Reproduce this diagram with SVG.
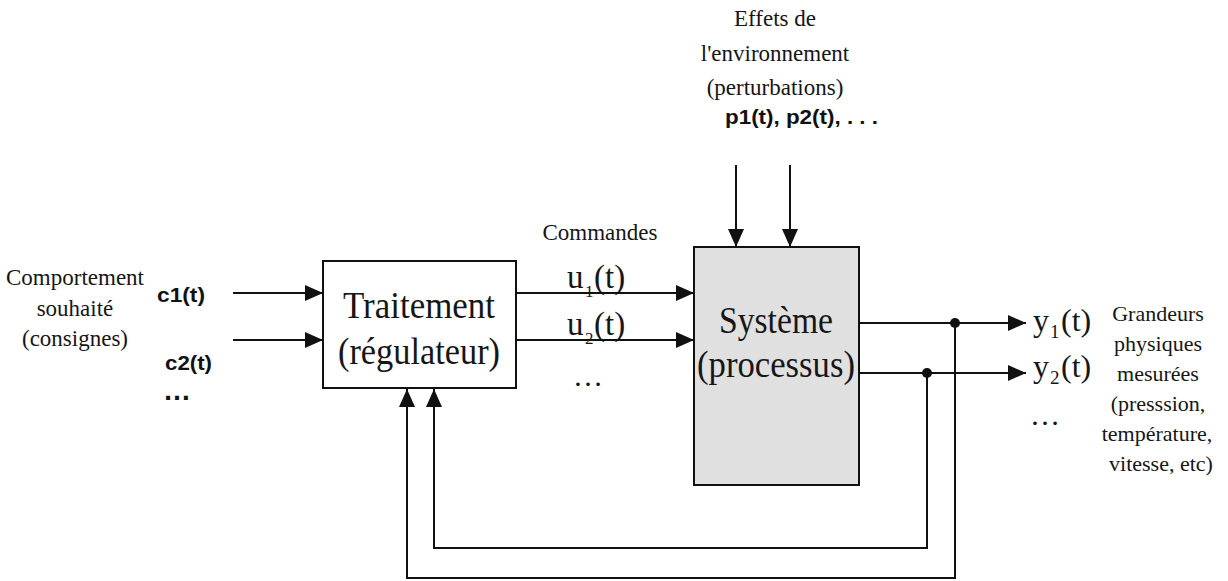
<svg xmlns="http://www.w3.org/2000/svg" width="1228" height="581" viewBox="0 0 1228 581">
  <style>
    .serif { font-family: "Liberation Serif", "Times New Roman", serif; fill: #161616; }
    .sans { font-family: "Liberation Sans", Arial, sans-serif; font-weight: bold; fill: #111; }
    .box { stroke: #111; stroke-width: 2; }
    .wire { fill: none; stroke: #111; stroke-width: 2; }
    .arrow { marker-end: url(#head); }
    .mid { text-anchor: middle; }
  </style>
  <defs>
    <marker id="head" markerUnits="userSpaceOnUse" markerWidth="18" markerHeight="16" refX="18" refY="8" orient="auto">
      <path d="M0,0 L18,8 L0,16 Z" fill="#111"/>
    </marker>
  </defs>
  <rect width="1228" height="581" fill="#fff"/>

  <!-- input side labels -->
  <g id="consignes">
    <text class="serif mid" x="75" y="285" font-size="23">Comportement</text>
    <text class="serif mid" x="75" y="316" font-size="23">souhaité</text>
    <text class="serif mid" x="75" y="346" font-size="23">(consignes)</text>
    <text class="sans" x="157" y="302" font-size="20" textLength="48" lengthAdjust="spacingAndGlyphs">c1(t)</text>
    <text class="sans" x="165" y="370" font-size="20" textLength="47" lengthAdjust="spacingAndGlyphs">c2(t)</text>
    <text class="sans" x="163" y="400" font-size="28">…</text>
  </g>

  <!-- controller -->
  <g id="traitement">
    <rect class="box" x="323" y="261" width="193" height="127" fill="#fff"/>
    <text class="serif mid" x="419" y="318" font-size="38" textLength="152" lengthAdjust="spacingAndGlyphs">Traitement</text>
    <text class="serif mid" x="419" y="364" font-size="38" textLength="162" lengthAdjust="spacingAndGlyphs">(régulateur)</text>
  </g>

  <!-- command labels -->
  <g id="commandes">
    <text class="serif mid" x="600" y="240" font-size="23" textLength="115" lengthAdjust="spacingAndGlyphs">Commandes</text>
    <text class="serif" x="567" y="288" font-size="33">u</text>
    <text class="serif" x="585" y="297" font-size="17">1</text>
    <text class="serif" x="594" y="288" font-size="33">(t)</text>
    <text class="serif" x="567" y="335" font-size="33">u</text>
    <text class="serif" x="585" y="344" font-size="17">2</text>
    <text class="serif" x="594" y="335" font-size="33">(t)</text>
    <text class="serif" x="573" y="386" font-size="30">…</text>
  </g>

  <!-- process -->
  <g id="systeme">
    <rect class="box" x="694" y="247" width="165" height="238" fill="#e0e0e0"/>
    <text class="serif mid" x="776" y="333" font-size="38" textLength="114" lengthAdjust="spacingAndGlyphs">Système</text>
    <text class="serif mid" x="776" y="377" font-size="38" textLength="158" lengthAdjust="spacingAndGlyphs">(processus)</text>
  </g>

  <!-- disturbances -->
  <g id="perturbations">
    <text class="serif mid" x="775" y="26" font-size="23">Effets de</text>
    <text class="serif mid" x="775" y="61" font-size="23">l'environnement</text>
    <text class="serif mid" x="775" y="95" font-size="23">(perturbations)</text>
    <text class="sans" x="725" y="124" font-size="21" textLength="153" lengthAdjust="spacingAndGlyphs">p1(t), p2(t), . . .</text>
  </g>

  <!-- measured outputs -->
  <g id="mesures">
    <text class="serif" x="1033" y="331" font-size="32">y</text>
    <text class="serif" x="1050" y="338" font-size="19">1</text>
    <text class="serif" x="1061" y="331" font-size="32">(t)</text>
    <text class="serif" x="1033" y="377" font-size="32">y</text>
    <text class="serif" x="1050" y="384" font-size="19">2</text>
    <text class="serif" x="1061" y="377" font-size="32">(t)</text>
    <text class="serif" x="1030" y="425" font-size="30">…</text>
    <text class="serif mid" x="1158" y="321" font-size="22">Grandeurs</text>
    <text class="serif mid" x="1158" y="351" font-size="22">physiques</text>
    <text class="serif mid" x="1158" y="381" font-size="22">mesurées</text>
    <text class="serif mid" x="1158" y="411" font-size="22">(presssion,</text>
    <text class="serif mid" x="1157" y="441" font-size="22">température,</text>
    <text class="serif mid" x="1161" y="471" font-size="22">vitesse, etc)</text>
  </g>

  <!-- signal lines -->
  <g id="connecteurs">
    <path class="wire arrow" d="M233,293 H323"/>
    <path class="wire arrow" d="M233,340 H323"/>
    <path class="wire arrow" d="M517,293 H694"/>
    <path class="wire arrow" d="M517,340 H694"/>
    <path class="wire arrow" d="M736,165 V247"/>
    <path class="wire arrow" d="M790,165 V247"/>
    <path class="wire arrow" d="M860,323 H1026"/>
    <path class="wire arrow" d="M860,373 H1026"/>
    <path class="wire arrow" d="M955,323 V578 H407 V389"/>
    <path class="wire arrow" d="M927,373 V548 H434 V389"/>
    <circle cx="955" cy="323" r="5" fill="#111"/>
    <circle cx="927" cy="373" r="5" fill="#111"/>
  </g>
</svg>
